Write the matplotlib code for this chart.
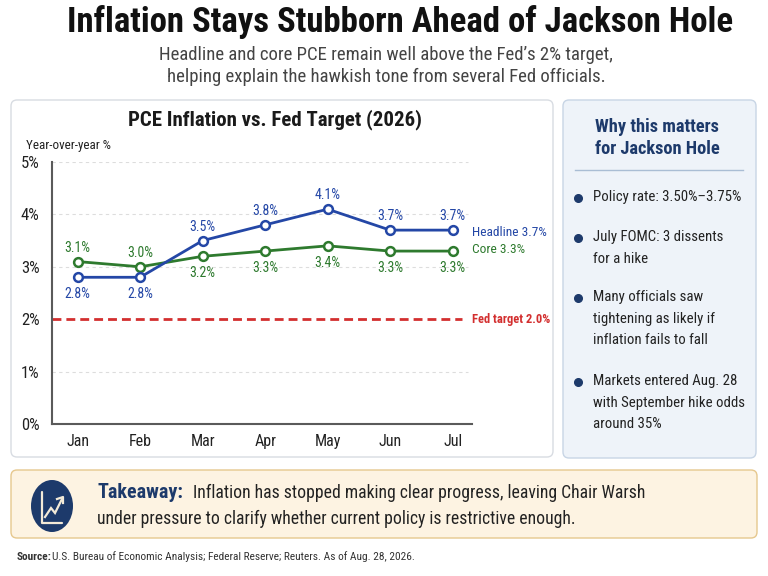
import matplotlib
matplotlib.use("Agg")
import matplotlib.pyplot as plt
from matplotlib import font_manager as fm
from matplotlib.patches import FancyBboxPatch, Ellipse
import matplotlib.transforms as mtransforms

# ---- data ----
months = ["Jan", "Feb", "Mar", "Apr", "May", "Jun", "Jul"]
headline = [2.8, 2.8, 3.5, 3.8, 4.1, 3.7, 3.7]
core = [3.1, 3.0, 3.2, 3.3, 3.4, 3.3, 3.3]
fed_target = 2.0
y_ticks = [0, 1, 2, 3, 4, 5]
headline_below = [True, True, False, False, False, False, False]
core_below = [False, False, True, True, True, True, True]

bullets = [
    "Policy rate: 3.50%\u20133.75%",
    "July FOMC: 3 dissents\nfor a hike",
    "Many officials saw\ntightening as likely if\ninflation fails to fall",
    "Markets entered Aug. 28\nwith September hike odds\naround 35%",
]

# ---- fonts ----
names = {f.name for f in fm.fontManager.ttflist}
narrow = "DejaVu Sans"
for cand in ["Roboto Condensed", "Liberation Sans Narrow", "Roboto"]:
    if cand in names:
        narrow = cand
        break
plt.rcParams["font.family"] = [narrow, "DejaVu Sans"]

BLUE = "#2447a6"
GREEN = "#2e7a2e"
RED = "#d32f2f"
NAVY = "#1d3a6b"
DARK = "#1a1a1a"

fig = plt.figure(figsize=(7.68, 5.76), dpi=100)

# overlay axes in pixel coords for panels and text
bg = fig.add_axes([0, 0, 1, 1], zorder=0)
bg.set_xlim(0, 768)
bg.set_ylim(576, 0)
bg.axis("off")

bg.text(400, 22, "Inflation Stays Stubborn Ahead of Jackson Hole", ha="center", va="center",
        fontsize=25, fontweight="bold", color="#111111")
bg.text(386, 66, "Headline and core PCE remain well above the Fed\u2019s 2% target,\nhelping explain the hawkish tone from several Fed officials.",
        ha="center", va="center", fontsize=13.5, color="#444444", linespacing=1.3)

# left panel
bg.add_patch(FancyBboxPatch((11, 100), 542, 357, boxstyle="round,pad=0,rounding_size=6",
                            facecolor="white", edgecolor="#d8dce2", lw=1))
# right panel
bg.add_patch(FancyBboxPatch((563, 100), 193, 358, boxstyle="round,pad=0,rounding_size=6",
                            facecolor="#eef3f9", edgecolor="#c8d5e5", lw=1))
# takeaway box
bg.add_patch(FancyBboxPatch((11, 470), 746, 68, boxstyle="round,pad=0,rounding_size=6",
                            facecolor="#fdf3e2", edgecolor="#e6c88e", lw=1))

bg.text(275, 120, "PCE Inflation vs. Fed Target (2026)", ha="center", va="center",
        fontsize=15, fontweight="bold", color=DARK)
bg.text(26, 145, "Year-over-year %", ha="left", va="center", fontsize=9.4, color="#222222")

# right panel content
bg.text(657, 138, "Why this matters\nfor Jackson Hole", ha="center", va="center",
        fontsize=13.2, fontweight="bold", color=NAVY, linespacing=1.3)
bg.plot([575, 743], [170, 170], color="#a9bdd4", lw=1)
bullet_y = [198, 238, 298, 382]
for by, txt in zip(bullet_y, bullets):
    bg.plot(578, by, "o", color=NAVY, ms=5.5)
    bg.text(593, by - 8, txt, ha="left", va="top", fontsize=10.7, color="#222222",
            linespacing=1.7)

# takeaway icon
bg.add_patch(Ellipse((52, 506), 42, 52, facecolor=NAVY, edgecolor="none"))
bg.plot([42, 42, 62], [492, 523, 523], color="#f3ead8", lw=1.6, solid_capstyle="round")
bg.plot([45, 51, 55, 62], [517, 508, 513, 499], color="#f3ead8", lw=1.6,
        solid_joinstyle="miter")
bg.plot([57, 63, 63], [499, 497, 503], color="#f3ead8", lw=1.6)

bg.text(97, 493, "Takeaway:", ha="left", va="center", fontsize=14.5, fontweight="bold", color=NAVY)
bg.text(193, 493, "Inflation has stopped making clear progress, leaving Chair Warsh",
        ha="left", va="center", fontsize=12.7, color="#222222")
bg.text(97, 519, "under pressure to clarify whether current policy is restrictive enough.",
        ha="left", va="center", fontsize=12.7, color="#222222")

bg.text(17, 557, "Source:", ha="left", va="center", fontsize=8.2, fontweight="bold", color="#333333")
bg.text(52, 557, "U.S. Bureau of Economic Analysis; Federal Reserve; Reuters. As of Aug. 28, 2026.",
        ha="left", va="center", fontsize=8.2, color="#333333")

# ---- chart ----
ax = fig.add_axes([52 / 768, 152 / 576, 420 / 768, 262 / 576], zorder=1)
ax.patch.set_alpha(0)
x = list(range(len(months)))
ax.set_xlim(-0.41, 6.31)
ax.set_ylim(0, 5)

for yt in y_ticks[1:]:
    if yt != fed_target:
        ax.plot([-0.41, 6.25], [yt, yt], color="#dddddd", lw=0.8, ls=(0, (3, 3)), zorder=1)
ax.plot([-0.41, 6.15], [fed_target, fed_target], color=RED, lw=2, ls=(0, (3.2, 1.8)), zorder=2)

ax.plot(x, headline, color=BLUE, lw=2, marker="o", ms=6.3, mfc="white", mec=BLUE, mew=1.8, zorder=4)
ax.plot(x, core, color=GREEN, lw=2, marker="o", ms=6.3, mfc="white", mec=GREEN, mew=1.8, zorder=3)

for xi, v, below in zip(x, headline, headline_below):
    ax.annotate(f"{v:.1f}%", (xi, v), xytext=(0, -12 if below else 10), textcoords="offset points",
                ha="center", va="center", fontsize=10, color=BLUE)
for xi, v, below in zip(x, core, core_below):
    ax.annotate(f"{v:.1f}%", (xi, v), xytext=(0, -12 if below else 10), textcoords="offset points",
                ha="center", va="center", fontsize=10, color=GREEN)

trans = mtransforms.blended_transform_factory(ax.transAxes, ax.transData)
ax.text(1.0, headline[-1] - 0.05, f"Headline {headline[-1]:.1f}%", transform=trans, ha="left",
        va="center", fontsize=9.6, color=BLUE, clip_on=False)
ax.text(1.0, core[-1] + 0.03, f"Core {core[-1]:.1f}%", transform=trans, ha="left",
        va="center", fontsize=9.6, color=GREEN, clip_on=False)
ax.text(1.0, fed_target, f"Fed target {fed_target:.1f}%", transform=trans, ha="left",
        va="center", fontsize=9, fontweight="bold", color=RED, clip_on=False)

ax.set_xticks(x)
ax.set_xticklabels(months)
ax.set_yticks(y_ticks)
ax.set_yticklabels([f"{t}%" for t in y_ticks])
ax.tick_params(axis="both", length=0, colors="#222222")
ax.tick_params(axis="y", pad=9, labelsize=12)
ax.tick_params(axis="x", pad=7, labelsize=11.5)
for s in ["top", "right"]:
    ax.spines[s].set_visible(False)
for s in ["left", "bottom"]:
    ax.spines[s].set_color("#5a5a5a")
    ax.spines[s].set_linewidth(1.5)

fig.savefig("out.png", dpi=100)
